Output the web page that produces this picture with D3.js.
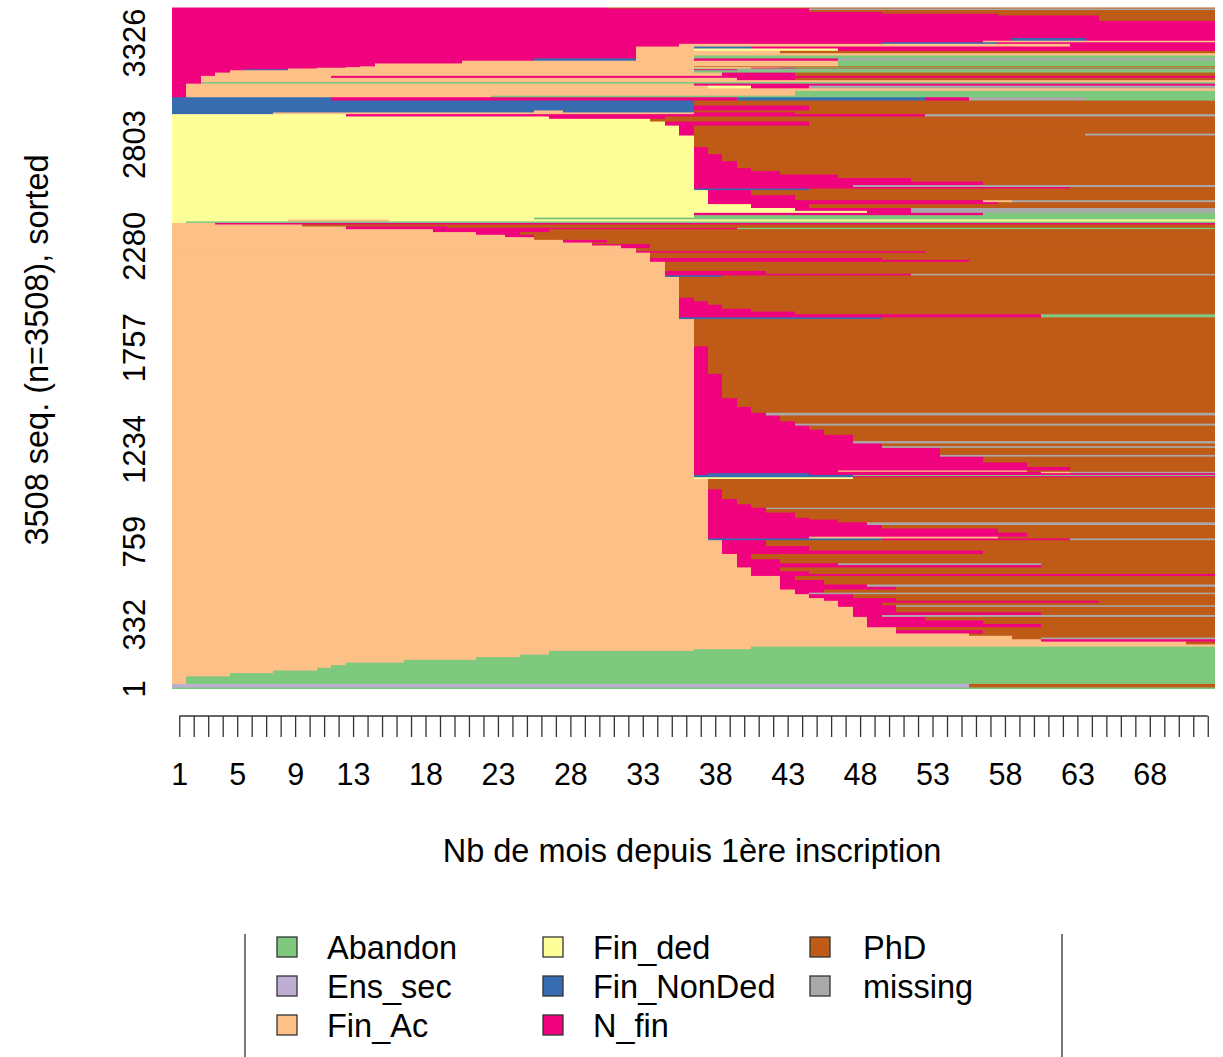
<!DOCTYPE html>
<html lang="en">
<head>
<meta charset="utf-8">
<title>seqIplot</title>
<script src="https://cdn.jsdelivr.net/npm/d3@7"></script>
<style>
  body { margin: 0; background: #fff; }
  text { font-family: "Liberation Sans", Arial, Helvetica, sans-serif; fill: #000; }
</style>
</head>
<body>
<svg id="canvas"></svg>
<script>
const width = 1223;
const height = 1057;

// states, their codes in the spell strings, and colours
const states = ["Abandon", "Ens_sec", "Fin_Ac", "Fin_ded", "Fin_NonDed", "N_fin", "PhD", "missing"];
const stateCodes = ["A", "E", "F", "D", "N", "X", "P", "M"];
const stateColors = ["#7FC97F", "#BEAED4", "#FDC086", "#FFFF99", "#386CB0", "#F0027F", "#BF5B17", "#A9A9A9"];

const nMonths = 72;
const xTickLabels = [1, 5, 9, 13, 18, 23, 28, 33, 38, 43, 48, 53, 58, 63, 68];
const yTickLabels = [1, 332, 759, 1234, 1757, 2280, 2803, 3326];

// groups of identical sequences: [count, spells], bottom to top
const blockAbandon = [[8, "A72"]];
const blockEnsSec = [[18, "E55 P17"]];

const blockFinAc = [
  [39, "F1 A71"], [17, "F4 A68"], [13, "F7 A65"], [14, "F10 A62"], [14, "F11 A61"],
  [13, "F12 A60"], [14, "F16 A56"], [14, "F21 A51"], [13, "F24 A48"], [19, "F26 A46"],
  [9, "F36 A36"], [13, "F40 A32"],
  [12, "F72"], [14, "F70 P2"], [12, "F60 X12"], [9, "F58 P2 M12"], [9, "F58 P14"],
  [12, "F55 P17"], [17, "F50 X6 P16"], [15, "F50 P22"],
  [17, "F48 X12 P12"], [18, "F48 X8 P16"], [18, "F48 X4 P20"],
  [10, "F47 X2 M23"], [14, "F47 X13 P12"], [28, "F47 X3 P22"],
  [8, "F46 X4 M22"], [13, "F46 X3 P23"], [10, "F46 X18 P8"], [14, "F45 X5 P22"],
  [20, "F44 X3 P25"], [8, "F43 X1 M28"], [16, "F43 X2 P27"],
  [14, "F42 X8 P22"], [12, "F42 X6 M24"], [23, "F42 X3 P27"], [21, "F42 X1 P29"],
  [10, "F40 X32"], [14, "F40 X4 P28"], [20, "F40 X2 P30"],
  [12, "F39 X21 P12"], [9, "F39 X7 M14 P12"], [21, "F39 X3 P30"], [27, "F39 X1 P32"],
  [18, "F38 X18 P16"], [23, "F38 X6 P28"], [30, "F38 X3 P31"],
  [9, "F37 N12 X13 M10"], [9, "F37 X7 F13 P15"], [21, "F37 X22 P13"], [21, "F37 X20 P15"],
  [18, "F37 X12 P23"], [14, "F37 X11 M24"], [14, "F37 X9 P26"], [9, "F37 X7 P28"],
  [27, "F37 X6 P29"], [18, "F37 X4 P31"], [7, "F37 X4 M31"], [18, "F37 X3 P32"],
  [27, "F37 X2 P33"], [50, "F37 X1 P34"], [53, "F37 P35"],
  [9, "F36 D11 P25"], [6, "F36 N11 X25"], [6, "F36 N11 A25"], [9, "F36 X1 N7 X28"],
  [7, "F36 X24 F2 M10"], [7, "F36 X10 F13 P13"], [18, "F36 X26 P10"], [23, "F36 X23 P13"],
  [30, "F36 X20 P16"], [9, "F36 X17 M19"], [36, "F36 X17 P19"], [9, "F36 X13 M23"],
  [14, "F36 X13 P23"], [12, "F36 X11 M25"], [32, "F36 X11 P25"], [27, "F36 X9 P27"],
  [21, "F36 X8 P28"], [10, "F36 X7 M29"], [12, "F36 X7 P29"], [30, "F36 X6 P30"],
  [14, "F36 X5 M31"], [30, "F36 X4 P32"], [45, "F36 X3 P33"], [125, "F36 X2 P34"],
  [142, "F36 X1 P35"], [140, "F36 P36"],
  [9, "F35 N14 P23"], [16, "F35 X25 A12"], [14, "F35 X8 P29"], [14, "F35 X5 P32"],
  [21, "F35 X3 P34"], [18, "F35 X2 P35"], [18, "F35 X1 P36"], [107, "F35 P37"],
  [8, "F34 N4 P34"], [8, "F34 X17 M21"], [15, "F34 X7 P31"], [47, "F34 P38"],
  [10, "F33 X22 P17"], [10, "F33 X16 P23"], [27, "F33 P39"],
  [8, "F32 X20 P20"], [15, "F32 P40"], [14, "F31 X2 P39"],
  [7, "F29 X4 P39"], [8, "F29 P43"], [14, "F27 X3 P42"], [14, "F25 P47"],
  [12, "F23 X2 P47"], [14, "F21 X3 P48"], [15, "F18 X8 P46"],
  [7, "F12 X27 A33"], [7, "F12 X7 P53"], [10, "F9 P63"], [8, "F3 X69"]
];

const blockFinDed = [
  [8, "D1 A71"], [10, "D8 F7 D57"], [10, "D25 A47"], [12, "D36 A36"], [12, "D36 X20 A16"],
  [10, "D48 X3 M21"], [15, "D43 X8 M21"], [20, "D40 X4 P28"],
  [10, "D37 X20 P15"], [10, "D37 X19 F2 M14"], [26, "D37 X6 P29"], [26, "D37 X3 P32"],
  [8, "D36 N8 P28"], [8, "D36 X26 P10"], [10, "D36 X11 M25"], [18, "D36 X20 P16"],
  [18, "D36 X15 P21"], [18, "D36 X10 P26"], [18, "D36 X6 P30"], [15, "D36 X4 P32"],
  [36, "D36 X3 P33"], [36, "D36 X2 P34"], [36, "D36 X1 P35"], [60, "D36 P36"],
  [10, "D35 X1 P27 M9"], [41, "D35 X1 P36"], [21, "D34 X10 P28"], [14, "D33 P39"],
  [12, "D26 X8 P38"], [12, "D12 X40 M20"]
];

const blockNonDed = [
  [9, "N7 F29 X7 P29"], [10, "N25 F2 N9 P36"], [25, "N36 X8 P28"], [26, "N36 P36"],
  [17, "N11 X28 N13 X3 M8 A9"]
];

const blockNfin = [
  [8, "X1 F21 A50"], [25, "X1 F42 A29"], [13, "X1 F71"], [14, "X1 F36 D3 X4 M28"], [10, "X1 F35 X36"],
  [8, "X2 A70"], [10, "X2 F70"], [12, "X2 F37 X4 P29"], [10, "X2 F9 X61"],
  [17, "X3 F35 X5 P29"], [12, "X4 F32 A36"],
  [5, "X5 N3 F28 X3 M33"], [4, "X8 F28 A36"], [4, "X10 F30 X3 P29"], [3, "X12 F30 A30"],
  [4, "X13 F23 P36"], [15, "X14 F32 A26"], [14, "X20 F26 A26"], [12, "X25 N7 F4 X10 M26"],
  [15, "X32 F4 A36"], [12, "X32 F40"], [12, "X32 F10 P30"], [12, "X32 F4 D10 X26"], [10, "X32 F4 N4 X32"],
  [14, "X35 F27 X10"],
  [8, "X49 N8 X15"], [8, "X56 F16"], [14, "X58 N5 X9"], [88, "X72"], [28, "X64 P8"],
  [9, "X57 P15"], [9, "X49 P23"], [10, "X44 P28"], [8, "X44 M28"], [5, "X30 P42"]
];

const svg = d3.select("#canvas")
  .attr("width", width)
  .attr("height", height)
  .attr("viewBox", [0, 0, width, height]);

const groups = [].concat(blockAbandon, blockEnsSec, blockFinAc, blockFinDed, blockNonDed, blockNfin);
const total = d3.sum(groups, d => d[0]);

const x = d3.scaleLinear().domain([0, nMonths]).range([172, 1215]);
const xMid = d3.scaleLinear().domain([0.5, nMonths + 0.5]).range([172, 1215]);
const y = d3.scaleLinear().domain([0, total]).range([689, 7.5]);
const color = d3.scaleOrdinal().domain(stateCodes).range(stateColors);

// one cell per spell per group
let cum = 0;
const cells = [];
groups.forEach(([n, spells]) => {
  let t = 0;
  spells.split(" ").forEach(sp => {
    const len = +sp.slice(1);
    cells.push({ code: sp[0], t0: t, t1: Math.min(t + len, nMonths), s0: cum, s1: cum + n });
    t += len;
  });
  cum += n;
});

// paint from the top group down; each cell reaches to the plot bottom,
// the next (lower) group covers it, so no seams between rows
cells.sort((a, b) => b.s0 - a.s0);

svg.append("g")
  .selectAll("rect")
  .data(cells)
  .join("rect")
  .attr("x", d => Math.round(x(d.t0)))
  .attr("width", d => Math.round(x(d.t1)) - Math.round(x(d.t0)))
  .attr("y", d => y(d.s1))
  .attr("height", d => y(0) - y(d.s1))
  .attr("fill", d => color(d.code));

// x axis: a tick per month, a label on some
const axisY = 716;
const xAxis = d3.axisBottom(xMid)
  .tickValues(d3.range(1, nMonths + 1))
  .tickSize(21)
  .tickSizeOuter(0)
  .tickPadding(26)
  .tickFormat(d => xTickLabels.includes(d) ? d : "");

const gx = svg.append("g")
  .attr("transform", `translate(0,${axisY})`)
  .call(xAxis);
gx.select(".domain").remove();
gx.selectAll(".tick line").attr("stroke", "#333").attr("stroke-width", 1.3);
gx.selectAll(".tick text")
  .attr("font-size", 30.5)
  .attr("font-family", "Liberation Sans, Arial, sans-serif")
  .attr("fill", "#000");
gx.append("line")
  .attr("x1", xMid(1)).attr("x2", xMid(nMonths))
  .attr("y1", 0).attr("y2", 0)
  .attr("stroke", "#333").attr("stroke-width", 1.3);

// y labels, rotated, no ticks
svg.append("g")
  .selectAll("text")
  .data(yTickLabels)
  .join("text")
  .attr("transform", d => `translate(145,${y(d - 0.5)}) rotate(-90)`)
  .attr("text-anchor", "middle")
  .attr("font-size", 31)
  .text(d => d);

// axis titles
svg.append("text")
  .attr("x", 692).attr("y", 862)
  .attr("text-anchor", "middle")
  .attr("font-size", 32.5)
  .text("Nb de mois depuis 1ère inscription");

svg.append("text")
  .attr("transform", `translate(48,350) rotate(-90)`)
  .attr("text-anchor", "middle")
  .attr("font-size", 32.5)
  .text(`${total} seq. (n=${total}), sorted`);

// legend
const legend = svg.append("g");
legend.append("line").attr("x1", 245).attr("x2", 245).attr("y1", 934).attr("y2", height)
  .attr("stroke", "#7a7a7a").attr("stroke-width", 2);
legend.append("line").attr("x1", 1062).attr("x2", 1062).attr("y1", 934).attr("y2", height)
  .attr("stroke", "#7a7a7a").attr("stroke-width", 2);

const colX = [277, 543, 810];
const rowY = [947, 986, 1025];
const items = legend.selectAll("g.item")
  .data(states)
  .join("g")
  .attr("class", "item")
  .attr("transform", (d, i) => `translate(${colX[Math.floor(i / 3)]},${rowY[i % 3]})`);

items.append("rect")
  .attr("x", 0).attr("y", -10)
  .attr("width", 20).attr("height", 20)
  .attr("fill", (d, i) => stateColors[i])
  .attr("stroke", "#333").attr("stroke-width", 1.3);

items.append("text")
  .attr("x", (d, i) => i < 6 ? 50 : 53)
  .attr("y", 11.5)
  .attr("font-size", 32.5)
  .text(d => d);
</script>
</body>
</html>
